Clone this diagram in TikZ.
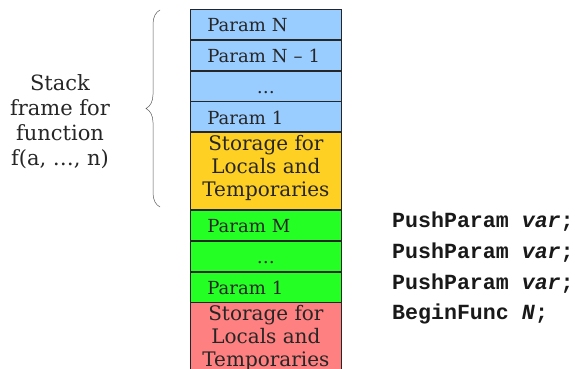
\documentclass[tikz,border=0pt]{standalone}
\usepackage{fontspec}
\setmainfont{DejaVu Serif}
\setmonofont{Liberation Mono}
\usetikzlibrary{positioning, decorations.pathreplacing}

\definecolor{parblue}{RGB}{153,204,255}
\definecolor{locyellow}{RGB}{255,208,36}
\definecolor{pargreen}{RGB}{36,255,36}
\definecolor{locred}{RGB}{255,128,128}

\begin{document}
\begin{tikzpicture}[x=1pt,y=-1pt,
        cell/.style={draw=black!85, line width=0.8pt, minimum width=151pt,
          minimum height=30pt, inner sep=0pt, text=black!85,
          text height=16pt, text depth=1pt,
          font=\fontsize{18}{23}\selectfont},
        param/.style={cell, text width=117pt, inner xsep=17pt, align=left},
        dots/.style={cell, align=center},
        store/.style={cell, minimum height=77pt, align=center,
          text height=, text depth=10pt, font=\fontsize{20}{23}\selectfont},
        code/.style={anchor=base west, inner sep=0pt, text=black!90,
          font=\ttfamily\bfseries\fontsize{21.6}{24}\selectfont}]
        \useasboundingbox (0,0) rectangle (575,369);

        % Stack frame of the caller
        \node[param, fill=parblue, anchor=north west] (pN) at (190,9) {Param N};
        \node[param, fill=parblue, below=0pt of pN] (pN1) {Param N -- 1};
        \node[dots, fill=parblue, below=0pt of pN1] (pdots) {…};
        \node[param, fill=parblue, below=0pt of pdots] (p1) {Param 1};
        \node[store, fill=locyellow, below=0pt of p1] (loc) {Storage for\\Locals and\\Temporaries};

        % Stack frame of the callee
        \node[param, fill=pargreen, below=0pt of loc] (pM) {Param M};
        \node[dots, fill=pargreen, below=0pt of pM] (qdots) {…};
        \node[param, fill=pargreen, below=0pt of qdots] (q1) {Param 1};
        \node[store, fill=locred, below=0pt of q1] (qloc) {Storage for\\Locals and\\Temporaries};

        % Brace and its label
        \coordinate (btop) at (160,10);
        \coordinate (bbot) at (160,207);
        \draw[decorate, decoration={brace, amplitude=14pt}, draw=black!65, line width=0.5pt]
            (bbot) -- (btop);
        \node[align=center, text=black!85, font=\fontsize{21}{25}\selectfont] (frame)
            at (60,122) {Stack\\frame for\\function\\f(a, …, n)};

        % Code
        \node[code] (c1) at (392,227) {PushParam \textit{var};};
        \node[code] (c2) at (392,258) {PushParam \textit{var};};
        \node[code] (c3) at (392,289) {PushParam \textit{var};};
        \node[code] (c4) at (392,319) {BeginFunc \textit{N};};
    \end{tikzpicture}
\end{document}
